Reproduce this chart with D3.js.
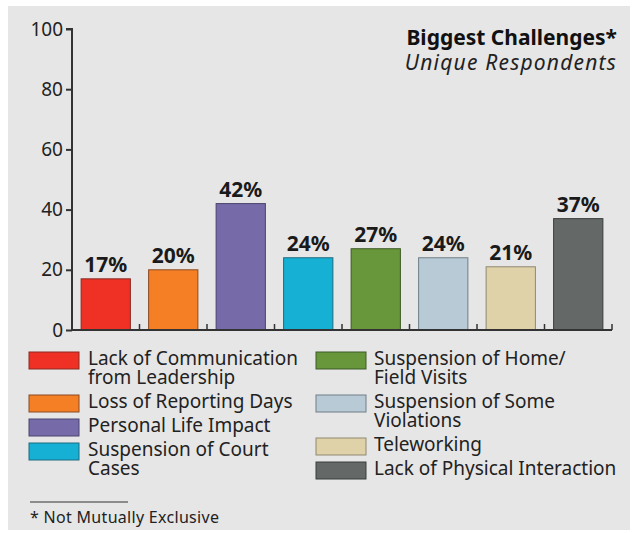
<!DOCTYPE html>
<html><head><meta charset="utf-8">
<script src="https://cdn.jsdelivr.net/npm/d3@7"></script>
<style>html,body{margin:0;padding:0;background:#fff;}svg{display:block;}</style>
</head><body>
<svg id="c" width="634" height="533"></svg>
<script>
const categories = ["Lack of Communication from Leadership","Loss of Reporting Days","Personal Life Impact","Suspension of Court Cases","Suspension of Home/ Field Visits","Suspension of Some Violations","Teleworking","Lack of Physical Interaction"];
const values = [17, 20, 42, 24, 27, 24, 21, 37];
const colors = ["#ee3124","#f47f25","#766aa8","#15b0d3","#67963b","#b8cad5","#dfd2a9","#646968"];
const strokes = ["#8a2a22","#8a4a22","#4a4470","#1d6b80","#3d5a26","#6f7f88","#8f8770","#3a3d3c"];
const legendLines = [["Lack of Communication","from Leadership"],["Loss of Reporting Days"],["Personal Life Impact"],["Suspension of Court","Cases"],["Suspension of Home/","Field Visits"],["Suspension of Some","Violations"],["Teleworking"],["Lack of Physical Interaction"]];
const yTicks = [0, 20, 40, 60, 80, 100];

const font = "'Noto Sans', sans-serif";
const svg = d3.select("#c");
svg.append("rect").attr("x",8).attr("y",6).attr("width",622).attr("height",524).attr("fill","#e6e6e6");

const x = d3.scaleBand().domain(categories).range([72, 612]).paddingInner(0.27).paddingOuter(0.135);
const y = d3.scaleLinear().domain([0, 100]).range([330, 29]);

// bars
svg.append("g").selectAll("rect").data(values).join("rect")
  .attr("x",(d,i)=>x(categories[i])).attr("y",d=>y(d))
  .attr("width",x.bandwidth()).attr("height",d=>y(0)-y(d))
  .attr("fill",(d,i)=>colors[i]).attr("stroke",(d,i)=>strokes[i]).attr("stroke-width",1);

// value labels
svg.append("g").selectAll("text").data(values).join("text")
  .attr("x",(d,i)=>x(categories[i])+x.bandwidth()/2).attr("y",d=>y(d)-7)
  .attr("text-anchor","middle").attr("font-family",font).attr("font-weight","bold")
  .attr("font-size",21).attr("fill","#1a1a1a").text(d=>d+"%");

// y axis
const ya = svg.append("g").attr("transform","translate(72,0)")
  .call(d3.axisLeft(y).tickValues(yTicks).tickSize(6).tickPadding(3));
ya.select(".domain").attr("stroke","#333").attr("stroke-width",2).attr("d","M-6,"+y(100)+"H0V"+y(0));
ya.selectAll(".tick line").attr("stroke","#333").attr("stroke-width",2);
ya.selectAll(".tick text").attr("font-family",font).attr("font-size",19).attr("fill","#222");

// x axis: baseline with tick marks at band boundaries pointing up
const xa = svg.append("g").attr("transform","translate(0,"+y(0)+")");
xa.append("line").attr("x1",72).attr("x2",612).attr("stroke","#333").attr("stroke-width",2);
const bounds = categories.map(c=>x(c)+x.bandwidth()+x.step()*x.paddingInner()/2);
xa.selectAll("line.t").data(bounds).join("line").attr("class","t")
  .attr("x1",d=>d).attr("x2",d=>d).attr("y1",0).attr("y2",-6).attr("stroke","#333").attr("stroke-width",1.5);

// title
svg.append("text").attr("x",617).attr("y",45).attr("text-anchor","end").attr("font-family",font)
  .attr("font-weight","bold").attr("font-size",21).attr("fill","#111").text("Biggest Challenges*");
svg.append("text").attr("x",617).attr("y",70).attr("text-anchor","end").attr("font-family",font)
  .attr("font-style","italic").attr("font-size",21).attr("letter-spacing",1.2).attr("fill","#222").text("Unique Respondents");

// legend
const lh = 19, gap = 5;
const cols = [{x:29, tx:88, idx:[0,1,2,3]},{x:316, tx:374, idx:[4,5,6,7]}];
cols.forEach(col=>{
  let top = 352;
  col.idx.forEach(i=>{
    const g = svg.append("g");
    g.append("rect").attr("x",col.x).attr("y",top).attr("width",50).attr("height",17)
      .attr("fill",colors[i]).attr("stroke",strokes[i]).attr("stroke-width",1);
    const t = g.append("text").attr("font-family",font).attr("font-size",19).attr("fill","#222");
    legendLines[i].forEach((ln,k)=>{
      t.append("tspan").attr("x",col.tx).attr("y",top+13+k*lh).text(ln);
    });
    top += legendLines[i].length*lh + gap;
  });
});

// footnote
svg.append("line").attr("x1",30).attr("x2",128).attr("y1",502).attr("y2",502).attr("stroke","#333").attr("stroke-width",1);
svg.append("text").attr("x",30).attr("y",523).attr("font-family",font).attr("font-size",16).attr("letter-spacing",0.3).attr("fill","#222").text("* Not Mutually Exclusive");
</script>
</body></html>
